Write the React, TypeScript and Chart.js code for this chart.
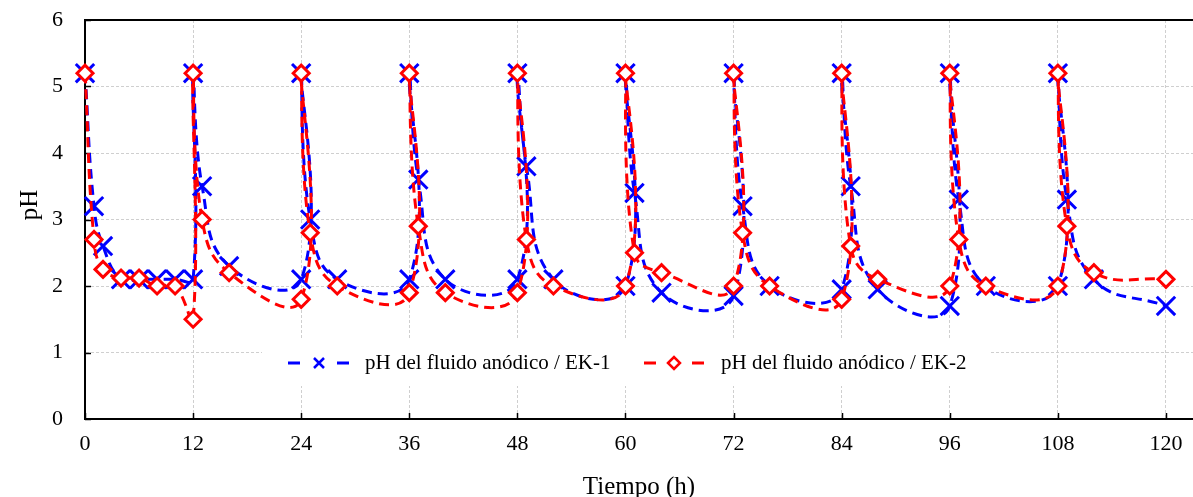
import { useEffect, useRef } from "react";
import { Chart, registerables } from "chart.js";

Chart.register(...registerables);

// ---- data ----
const timeH = [0, 1, 2, 4, 6, 8, 10, 12, 12, 13, 16, 24, 24, 25, 28, 36, 36, 37, 40, 48, 48, 49, 52, 60, 60, 61, 64, 72, 72, 73, 76, 84, 84, 85, 88, 96, 96, 97, 100, 108, 108, 109, 112, 120];
const phEK1 = [5.2, 3.2, 2.6, 2.1, 2.1, 2.1, 2.1, 2.1, 5.2, 3.5, 2.3, 2.1, 5.2, 3.0, 2.1, 2.1, 5.2, 3.6, 2.1, 2.1, 5.2, 3.8, 2.1, 2.0, 5.2, 3.4, 1.9, 1.85, 5.2, 3.2, 2.0, 1.95, 5.2, 3.5, 1.95, 1.7, 5.2, 3.3, 2.0, 2.0, 5.2, 3.3, 2.1, 1.7];
const phEK2 = [5.2, 2.7, 2.25, 2.12, 2.12, 2.0, 2.0, 1.5, 5.2, 3.0, 2.2, 1.8, 5.2, 2.8, 2.0, 1.9, 5.2, 2.9, 1.9, 1.9, 5.2, 2.7, 2.0, 2.0, 5.2, 2.5, 2.2, 2.0, 5.2, 2.8, 2.0, 1.8, 5.2, 2.6, 2.1, 2.0, 5.2, 2.7, 2.0, 2.0, 5.2, 2.9, 2.2, 2.1];
const xTicks = [0, 12, 24, 36, 48, 60, 72, 84, 96, 108, 120];
const yTicks = [0, 1, 2, 3, 4, 5, 6];
const labelEK1 = "pH del fluido anódico / EK-1";
const labelEK2 = "pH del fluido anódico / EK-2";
const xTitle = "Tiempo (h)";
const yTitle = "pH";

const FONT = '"Liberation Serif", "Times New Roman", serif';
const BLUE = "#0000ff";
const RED = "#ff0000";

function drawCross(ctx: CanvasRenderingContext2D, x: number, y: number, h: number) {
  ctx.beginPath();
  ctx.moveTo(x - h, y - h);
  ctx.lineTo(x + h, y + h);
  ctx.moveTo(x + h, y - h);
  ctx.lineTo(x - h, y + h);
  ctx.stroke();
}

function drawDiamond(ctx: CanvasRenderingContext2D, x: number, y: number, r: number) {
  ctx.beginPath();
  ctx.moveTo(x - r, y);
  ctx.lineTo(x, y - r);
  ctx.lineTo(x + r, y);
  ctx.lineTo(x, y + r);
  ctx.closePath();
  ctx.fill();
  ctx.stroke();
}

const decorPlugin = {
  id: "decor",
  beforeDatasetsDraw(chart: any) {
    const { ctx, chartArea, scales } = chart;
    const { left, top, right, bottom } = chartArea;
    ctx.save();
    ctx.strokeStyle = "#000";
    ctx.lineWidth = 2;
    ctx.setLineDash([]);
    ctx.beginPath();
    ctx.moveTo(left - 1, top);
    ctx.lineTo(right, top);
    ctx.stroke();
    ctx.lineWidth = 1.5;
    ctx.beginPath();
    xTicks.forEach((v) => {
      const px = Math.round(scales.x.getPixelForValue(v)) + 0.5;
      ctx.moveTo(px, bottom);
      ctx.lineTo(px, bottom - 6);
    });
    yTicks.forEach((v) => {
      const py = Math.round(scales.y.getPixelForValue(v)) + 0.5;
      ctx.moveTo(left, py);
      ctx.lineTo(left + 6, py);
    });
    ctx.stroke();
    ctx.restore();
  },
  afterDraw(chart: any) {
    const { ctx } = chart;
    ctx.save();
    // legend box
    ctx.fillStyle = "#fff";
    ctx.fillRect(262, 340, 728, 46);
    const ly = 363;
    // EK-1 sample
    ctx.strokeStyle = BLUE;
    ctx.lineWidth = 3;
    ctx.beginPath();
    ctx.moveTo(288, ly);
    ctx.lineTo(300, ly);
    ctx.moveTo(337, ly);
    ctx.lineTo(349, ly);
    ctx.stroke();
    ctx.lineWidth = 2.5;
    drawCross(ctx, 319, ly, 5);
    // EK-2 sample
    ctx.strokeStyle = RED;
    ctx.lineWidth = 3;
    ctx.beginPath();
    ctx.moveTo(644, ly);
    ctx.lineTo(656, ly);
    ctx.moveTo(692, ly);
    ctx.lineTo(704, ly);
    ctx.stroke();
    ctx.fillStyle = "#fff";
    ctx.lineWidth = 2.5;
    drawDiamond(ctx, 674, ly, 6);
    // legend texts
    ctx.fillStyle = "#000";
    ctx.font = `21px ${FONT}`;
    ctx.textAlign = "left";
    ctx.textBaseline = "middle";
    ctx.fillText(labelEK1, 365, ly);
    ctx.fillText(labelEK2, 721, ly);
    // y title
    ctx.font = `25px ${FONT}`;
    ctx.textAlign = "center";
    ctx.translate(30, 205);
    ctx.rotate(-Math.PI / 2);
    ctx.fillText(yTitle, 0, 0);
    ctx.restore();
  },
};

export default function App() {
  const ref = useRef<HTMLCanvasElement | null>(null);
  useEffect(() => {
    if (!ref.current) return;
    const chart = new Chart(ref.current, {
      type: "line",
      data: {
        datasets: [
          {
            label: labelEK1,
            data: timeH.map((x, i) => ({ x, y: phEK1[i] })),
            borderColor: BLUE,
            backgroundColor: BLUE,
            borderWidth: 3,
            borderDash: [10, 6],
            pointStyle: "crossRot",
            pointRadius: 13,
            pointBorderWidth: 3,
            pointBorderColor: BLUE,
            pointBackgroundColor: BLUE,
            tension: 0.45,
            fill: false,
            clip: false,
            order: 1,
          },
          {
            label: labelEK2,
            data: timeH.map((x, i) => ({ x, y: phEK2[i] })),
            borderColor: RED,
            backgroundColor: "#fff",
            borderWidth: 3,
            borderDash: [10, 6],
            pointStyle: "rectRot",
            pointRadius: 8,
            pointBorderWidth: 3,
            pointBorderColor: RED,
            pointBackgroundColor: "#fff",
            tension: 0.45,
            fill: false,
            clip: false,
            order: 0,
          },
        ],
      } as any,
      options: {
        animation: false,
        responsive: false,
        devicePixelRatio: 1,
        layout: { autoPadding: false, padding: { top: 20, left: 0, right: 0, bottom: 0 } },
        plugins: { legend: { display: false }, tooltip: { enabled: false } },
        scales: {
          x: {
            type: "linear",
            min: 0,
            max: 123,
            afterBuildTicks: (s: any) => {
              s.ticks = xTicks.map((v) => ({ value: v }));
            },
            afterFit: (s: any) => {
              s.height = 78;
              s.paddingLeft = 0;
              s.paddingRight = 0;
            },
            ticks: {
              color: "#000",
              font: { family: FONT, size: 22 },
              padding: 12,
              maxRotation: 0,
              autoSkip: false,
            },
            grid: { color: "#cfcfcf", lineWidth: 1, drawTicks: false },
            border: { display: true, color: "#000", width: 2, dash: [3, 2] },
            title: {
              display: true,
              text: xTitle,
              color: "#000",
              font: { family: FONT, size: 25, weight: "normal" },
              padding: { top: 0, bottom: -5 },
            },
          },
          y: {
            type: "linear",
            min: 0,
            max: 6,
            afterBuildTicks: (s: any) => {
              s.ticks = yTicks.map((v) => ({ value: v }));
            },
            afterFit: (s: any) => {
              s.width = 85;
              s.paddingTop = 0;
              s.paddingBottom = 0;
            },
            ticks: {
              color: "#000",
              font: { family: FONT, size: 22 },
              padding: 22,
            },
            grid: { color: "#cfcfcf", lineWidth: 1, drawTicks: false },
            border: { display: true, color: "#000", width: 2, dash: [3, 2] },
          },
        },
      } as any,
      plugins: [decorPlugin],
    });
    return () => chart.destroy();
  }, []);

  return (
    <div style={{ position: "absolute", left: 0, top: 0, width: 1193, height: 497, overflow: "hidden", background: "#fff" }}>
      <canvas ref={ref} width={1193} height={497} style={{ display: "block" }} />
    </div>
  );
}
